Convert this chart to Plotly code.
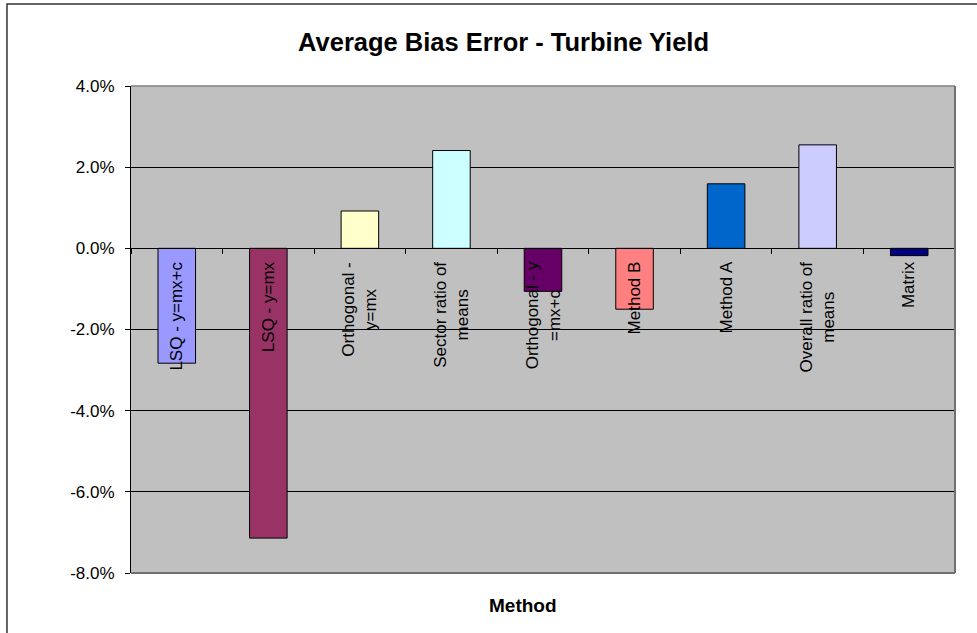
import plotly.graph_objects as go

categories = ["LSQ - y=mx+c", "LSQ - y=mx", "Orthogonal - y=mx", "Sector ratio of means",
              "Orthogonal - y =mx+c", "Method B", "Method A", "Overall ratio of means", "Matrix"]
label_text = ["LSQ - y=mx+c", "LSQ - y=mx", "Orthogonal -<br>y=mx", "Sector ratio of<br>means",
              "Orthogonal - y<br>=mx+c", "Method B", "Method A", "Overall ratio of<br>means", "Matrix"]
values = [-0.0283, -0.0714, 0.0092, 0.0241, -0.0106, -0.0150, 0.0159, 0.0255, -0.0018]
colors = ["#9999FF", "#993366", "#FFFFCC", "#CCFFFF", "#660066", "#FF8080", "#0066CC", "#CCCCFF", "#000080"]
y_ticks = [-0.08, -0.06, -0.04, -0.02, 0.0, 0.02, 0.04]
y_tick_text = ["-8.0%", "-6.0%", "-4.0%", "-2.0%", "0.0%", "2.0%", "4.0%"]

FONT = "Arial, Liberation Sans, sans-serif"

fig = go.Figure()
fig.add_trace(go.Bar(
    x=categories, y=values,
    marker=dict(color=colors, line=dict(color="black", width=1)),
    hoverinfo="skip",
))

for cat, txt in zip(categories, label_text):
    fig.add_annotation(
        x=cat, y=0, xref="x", yref="y", text=txt, textangle=-90,
        showarrow=False, xanchor="center", yanchor="top", yshift=-11,
        align="center", font=dict(family=FONT, size=17, color="black"),
    )

fig.add_annotation(
    x=0.476, y=-0.066, xref="paper", yref="paper", text="<b>Method</b>",
    showarrow=False, xanchor="center", yanchor="middle",
    font=dict(family=FONT, size=19, color="black"),
)

# plot area border (top, right, bottom)
border = dict(color="#808080", width=1.5)
fig.add_shape(type="line", xref="paper", yref="paper", x0=0, x1=1, y0=1, y1=1, line=border, layer="above")
fig.add_shape(type="line", xref="paper", yref="paper", x0=1, x1=1, y0=0, y1=1, line=dict(color="#707070", width=2), layer="above")
fig.add_shape(type="line", xref="paper", yref="paper", x0=0, x1=1, y0=0, y1=0, line=dict(color="#707070", width=2), layer="above")
# outer chart frame
fig.add_shape(type="rect", xref="paper", yref="paper", x0=-0.1505, x1=1.1, y0=-0.15, y1=1.1684,
              line=dict(color="#333333", width=1.5), layer="above")

fig.update_layout(
    width=977, height=633,
    margin=dict(l=131, r=22, t=86, b=60),
    paper_bgcolor="white", plot_bgcolor="#C0C0C0",
    showlegend=False, bargap=0.59,
    title=dict(text="<b>Average Bias Error - Turbine Yield</b>", x=0.5154, xref="container", xanchor="center",
               y=1 - 42 / 633, yref="container", yanchor="middle",
               font=dict(family=FONT, size=25.5, color="black")),
    font=dict(family=FONT, color="black"),
)
fig.update_xaxes(
    type="category", anchor="free", position=0.6667, showline=True, linecolor="black", linewidth=1,
    ticks="outside", tickson="boundaries", ticklen=5, tickcolor="black", showticklabels=False,
    showgrid=False, zeroline=False,
)
fig.update_yaxes(
    range=[-0.08, 0.04], tickvals=y_ticks, ticktext=y_tick_text,
    showgrid=True, gridcolor="black", gridwidth=1, zeroline=True, zerolinecolor="black", zerolinewidth=1,
    showline=True, linecolor="black", linewidth=1, ticks="outside", ticklen=5, tickcolor="black",
    tickfont=dict(family=FONT, size=17, color="black"), ticklabelstandoff=7,
)

fig.write_html("out.html")
